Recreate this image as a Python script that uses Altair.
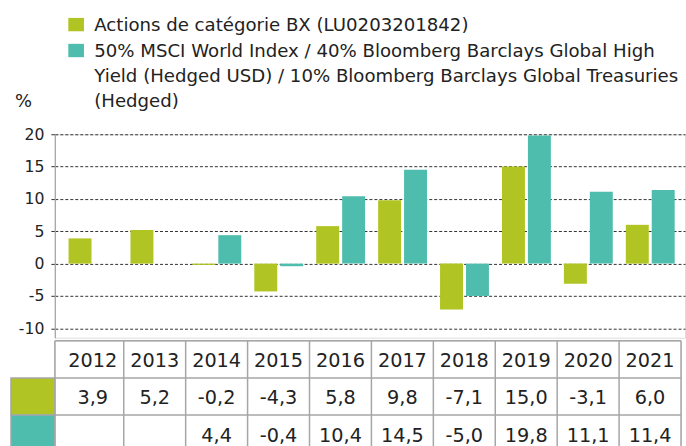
import altair as alt
import pandas as pd

years = [2012, 2013, 2014, 2015, 2016, 2017, 2018, 2019, 2020, 2021]
fund = [3.9, 5.2, -0.2, -4.3, 5.8, 9.8, -7.1, 15.0, -3.1, 6.0]
bench = [None, None, 4.4, -0.4, 10.4, 14.5, -5.0, 19.8, 11.1, 11.4]
series_names = [
    "Actions de catégorie BX (LU0203201842)",
    "50% MSCI World Index / 40% Bloomberg Barclays Global High Yield (Hedged USD) / 10% Bloomberg Barclays Global Treasuries (Hedged)",
]
legend_lines = [
    ["Actions de catégorie BX (LU0203201842)"],
    ["50% MSCI World Index / 40% Bloomberg Barclays Global High",
     "Yield (Hedged USD) / 10% Bloomberg Barclays Global Treasuries",
     "(Hedged)"],
]
series_keys = ["A", "B"]
colors = ["#b0c423", "#4fbdad"]
y_ticks = [-10, -5, 0, 5, 10, 15, 20]

FONT = "DejaVu Sans"
TXT = "#222222"
BORDER = "#a6a6a6"

# ---- data tables
rows = []
for s, key, vals in [(series_names[0], "A", fund), (series_names[1], "B", bench)]:
    for y, v in zip(years, vals):
        if v is not None:
            rows.append({"year": y, "series": s, "key": key, "value": v})
bars_df = pd.DataFrame(rows)

leg_df = pd.DataFrame({"series": series_names, "key": series_keys, "label": legend_lines})

tab_rows = []
for y in years:
    tab_rows.append({"year": y, "row": "Y", "txt": str(y)})
for key, vals in [("A", fund), ("B", bench)]:
    for y, v in zip(years, vals):
        if v is not None:
            tab_rows.append({"year": y, "row": key, "txt": f"{v:.1f}".replace(".", ",")})
tab_df = pd.DataFrame(tab_rows)
sw_df = pd.DataFrame({"row": series_keys, "series": series_names})
vlines_df = pd.DataFrame({"year": years[1:]})
rlines_df = pd.DataFrame({"year": [years[-1]]})
hlines_df = pd.DataFrame({"row": ["Y", "A", "B"]})

color_scale = alt.Scale(domain=series_names, range=colors)

# ---- bar chart
xb = alt.X("year:O", scale=alt.Scale(domain=years, paddingInner=0, paddingOuter=0.0886, align=0.655), axis=None)
yb = alt.Y(
    "value:Q",
    scale=alt.Scale(domain=[-11.45, 20], nice=False, zero=False),
    axis=alt.Axis(
        values=y_ticks, labelExpr="datum.value + ''",
        title="%", titleAngle=0, titleX=-40.5, titleY=-28,
        titleAlign="left", titleBaseline="alphabetic", titleFontSize=18,
        titleFontWeight="normal", titleColor=TXT, titleFont=FONT,
        labelFontSize=15.7, labelColor=TXT, labelFont=FONT, labelPadding=7,
        tickSize=4, tickColor="#333333", grid=True, gridDash=[3, 2],
        gridColor="#333333", gridWidth=1, domainColor="#a8a8a8", domainWidth=1.3,
    ),
)

bars = alt.Chart(bars_df).mark_bar().encode(
    x=xb,
    xOffset=alt.XOffset("key:N", scale=alt.Scale(domain=series_keys, paddingInner=0.115, paddingOuter=0.2516)),
    y=yb,
    color=alt.Color("series:N", scale=color_scale, legend=None),
)

sw_a = alt.Chart(leg_df).transform_filter("datum.key == 'A'").mark_rect().encode(
    x=alt.value(13.5), x2=alt.value(29.2), y=alt.value(-116.7), y2=alt.value(-103.3),
    color=alt.Color("series:N", scale=color_scale, legend=None),
)
sw_b = alt.Chart(leg_df).transform_filter("datum.key == 'B'").mark_rect().encode(
    x=alt.value(13.5), x2=alt.value(29.2), y=alt.value(-90.7), y2=alt.value(-77.3),
    color=alt.Color("series:N", scale=color_scale, legend=None),
)
tx_a = alt.Chart(leg_df).transform_filter("datum.key == 'A'").mark_text(
    align="left", baseline="alphabetic", font=FONT, fontSize=18.2, color=TXT, lineHeight=25
).encode(x=alt.value(39.5), y=alt.value(-103.3), text="label")
tx_b = alt.Chart(leg_df).transform_filter("datum.key == 'B'").mark_text(
    align="left", baseline="alphabetic", font=FONT, fontSize=18.2, color=TXT, lineHeight=25
).encode(x=alt.value(39.5), y=alt.value(-77.3), text="label")

bar_chart = alt.layer(bars, sw_a, sw_b, tx_a, tx_b).properties(width=632, height=204)

# ---- table
xs_t = alt.Scale(domain=years, paddingInner=0, paddingOuter=0.05636, align=1)
ys_t = alt.Scale(domain=["Y", "A", "B"], range=[0, 112], paddingInner=0, paddingOuter=0)

t_text = alt.Chart(tab_df).mark_text(font=FONT, fontSize=19.3, color=TXT, baseline="middle", dy=2).encode(
    x=alt.X("year:O", scale=xs_t, axis=None),
    y=alt.Y("row:O", scale=ys_t, axis=None),
    text="txt",
)
t_sw = alt.Chart(sw_df).mark_rect(stroke=BORDER, strokeWidth=1.5).encode(
    x=alt.value(-44), x2=alt.value(0),
    y=alt.Y("row:O", scale=ys_t, axis=None),
    color=alt.Color("series:N", scale=color_scale, legend=None),
)
t_v = alt.Chart(vlines_df).mark_rule(color=BORDER, strokeWidth=1.5).encode(
    x=alt.X("year:O", scale=xs_t, axis=None, bandPosition=0)
)
t_r = alt.Chart(rlines_df).mark_rule(color=BORDER, strokeWidth=1.5).encode(
    x=alt.X("year:O", scale=xs_t, axis=None, bandPosition=1)
)
t_l = alt.Chart(rlines_df).mark_rule(color=BORDER, strokeWidth=1.5).encode(x=alt.value(0))
t_h = alt.Chart(hlines_df).mark_rule(color=BORDER, strokeWidth=1.5).encode(
    y=alt.Y("row:O", scale=ys_t, axis=None, bandPosition=0)
)

table = alt.layer(t_v, t_r, t_l, t_h, t_sw, t_text).properties(width=628, height=112)

chart = (
    alt.vconcat(bar_chart, table, spacing=0)
    .resolve_scale(x="independent", y="independent")
    .configure_view(stroke=None)
    .configure(font=FONT)
    .properties(padding={"left": 9, "top": 15, "right": 0, "bottom": 0}, background="white")
)

chart.save("out.html", embed_options={"renderer": "svg", "actions": False})
